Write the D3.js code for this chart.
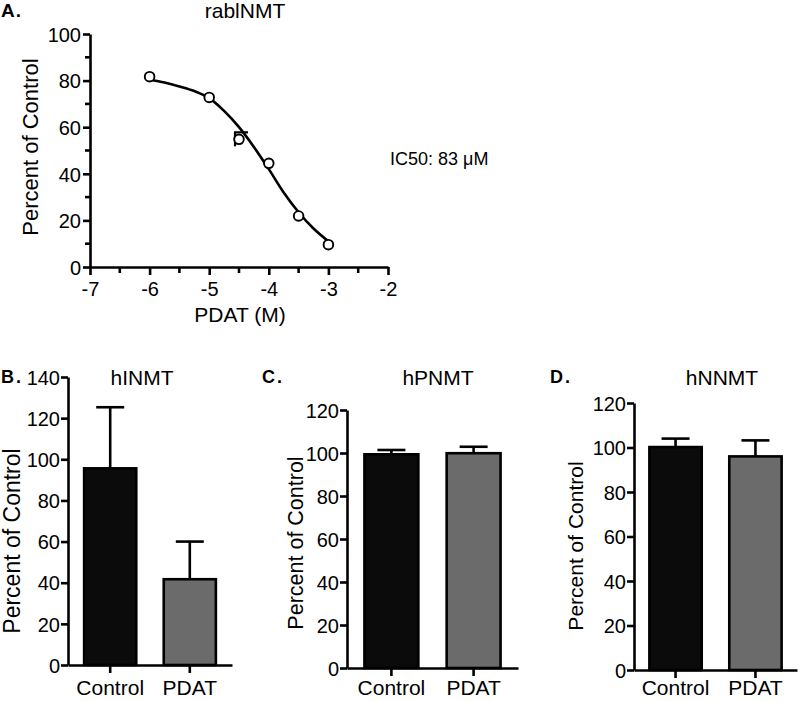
<!DOCTYPE html>
<html><head><meta charset="utf-8">
<script src="https://cdn.jsdelivr.net/npm/d3@7/dist/d3.min.js"></script>
<style>
html,body{margin:0;padding:0;background:#fff;}
svg text{font-family:"Liberation Sans",Arial,Helvetica,sans-serif;fill:#000;}
</style></head>
<body>
<svg id="fig" width="800" height="701"></svg>
<script>
// ---- Panel A data (rabINMT dose response) ----
const doseLogM = [-6, -5, -4.5, -4, -3.5, -3];
const rabPct   = [81.7, 72.8, 54.8, 44.5, 21.9, 9.6];
const rabErr   = [0, 0, 3.0, 0, 0, 0];
// fitted curve
const fitLogM  = [-6, -5.75, -5.5, -5.25, -5, -4.75, -4.5, -4.25, -4, -3.75, -3.5, -3.25, -3];
const fitPct   = [80.5, 79.2, 77.5, 75.5, 72.5, 67, 60, 51.5, 42, 32, 23.5, 16.5, 11];
const xTicksA  = [-7, -6, -5, -4, -3, -2];
const yTicksA  = [0, 20, 40, 60, 80, 100];

// ---- Bar panels data ----
const barCategories = ["Control", "PDAT"];
const hinmtMean = [95.6, 41.7];
const hinmtErr  = [29.7, 18.3];
const hpnmtMean = [99.4, 99.9];
const hpnmtErr  = [2.0, 3.0];
const hnnmtMean = [100.2, 96.0];
const hnnmtErr  = [3.8, 7.2];
const barFill = ["#0b0b0b", "#6b6b6b"];

const svg = d3.select("#fig");
const AX = 2.6;

function styleAxis(g){
  g.selectAll(".domain").attr("stroke","#000").attr("stroke-width",AX);
  g.selectAll(".tick line").attr("stroke","#000").attr("stroke-width",AX);
  g.selectAll(".tick text").attr("font-size","20px").attr("fill","#000")
   .attr("font-family",'"Liberation Sans",Arial,sans-serif');
}

// ================= Panel A =================
(function(){
  const x = d3.scaleLinear().domain([-7,-2]).range([90,388]);
  const y = d3.scaleLinear().domain([0,100]).range([267,34]);
  const g = svg.append("g");

  // minor ticks
  const xMinor = d3.range(-6.5,-2,1);
  g.append("g").selectAll("line").data(xMinor).join("line")
    .attr("x1",d=>x(d)).attr("x2",d=>x(d)).attr("y1",267).attr("y2",273)
    .attr("stroke","#000").attr("stroke-width",AX);
  const yMinor = d3.range(10,100,20);
  g.append("g").selectAll("line").data(yMinor).join("line")
    .attr("x1",90).attr("x2",85).attr("y1",d=>y(d)).attr("y2",d=>y(d))
    .attr("stroke","#000").attr("stroke-width",AX);

  const xa = g.append("g").attr("transform","translate(0,267)")
    .call(d3.axisBottom(x).tickValues(xTicksA).tickSize(8).tickPadding(6).tickFormat(d=>String(d).replace("−","-")).tickSizeOuter(0));
  styleAxis(xa);
  xa.selectAll(".tick text").attr("y",29).attr("dy","0");
  const ya = g.append("g").attr("transform","translate(90,0)")
    .call(d3.axisLeft(y).tickValues(yTicksA).tickSize(7).tickPadding(2).tickSizeOuter(0));
  styleAxis(ya);
  ya.selectAll(".tick text").attr("dy","0.36em");

  // fitted curve
  const line = d3.line().x((d,i)=>x(fitLogM[i])).y(d=>y(d)).curve(d3.curveCatmullRom);
  g.append("path").datum(fitPct).attr("d",line)
    .attr("fill","none").attr("stroke","#000").attr("stroke-width",2.6);

  // error bars
  const eb = g.append("g");
  doseLogM.forEach((d,i)=>{
    if(rabErr[i]>0){
      const cx = x(d);
      eb.append("line").attr("x1",cx-4).attr("x2",cx-4)
        .attr("y1",y(rabPct[i]-rabErr[i])).attr("y2",y(rabPct[i]+rabErr[i]))
        .attr("stroke","#000").attr("stroke-width",2.2);
      eb.append("line").attr("x1",cx-5).attr("x2",cx+9)
        .attr("y1",y(rabPct[i]+rabErr[i])).attr("y2",y(rabPct[i]+rabErr[i]))
        .attr("stroke","#000").attr("stroke-width",2.2);
    }
  });
  // points
  g.append("g").selectAll("circle").data(doseLogM).join("circle")
    .attr("cx",d=>x(d)).attr("cy",(d,i)=>y(rabPct[i])).attr("r",4.8)
    .attr("fill","#fff").attr("stroke","#000").attr("stroke-width",1.9);

  g.append("text").attr("x",1).attr("y",17).attr("font-size","19px")
    .attr("font-weight","bold").attr("letter-spacing","1px").text("A.");
  g.append("text").attr("x",245).attr("y",18).attr("text-anchor","middle")
    .attr("font-size","21px").text("rablNMT");
  g.append("text").attr("transform","translate(38,147) rotate(-90)")
    .attr("text-anchor","middle").attr("font-size","22px").text("Percent of Control");
  g.append("text").attr("x",240).attr("y",322).attr("text-anchor","middle")
    .attr("font-size","21px").text("PDAT (M)");
  g.append("text").attr("x",390).attr("y",165).attr("font-size","18px").text("IC50: 83 μM");
})();

// ================= Bar panels =================
function barPanel(o){
  const g = svg.append("g");
  const x = d3.scaleBand().domain(barCategories).range([o.x0,o.x1])
    .paddingInner(o.pi).paddingOuter(o.po);
  const y = d3.scaleLinear().domain([0,o.ymax]).range([o.y0,o.y1]);

  // error bars (behind bars)
  const eg = g.append("g");
  barCategories.forEach((c,i)=>{
    const cx = x(c)+x.bandwidth()/2;
    eg.append("line").attr("x1",cx).attr("x2",cx)
      .attr("y1",y(o.mean[i])).attr("y2",y(o.mean[i]+o.err[i]))
      .attr("stroke","#000").attr("stroke-width",AX);
    eg.append("line").attr("x1",cx-14).attr("x2",cx+14)
      .attr("y1",y(o.mean[i]+o.err[i])).attr("y2",y(o.mean[i]+o.err[i]))
      .attr("stroke","#000").attr("stroke-width",AX);
  });
  g.append("g").selectAll("rect").data(barCategories).join("rect")
    .attr("x",d=>x(d)+1).attr("width",x.bandwidth()-2)
    .attr("y",(d,i)=>y(o.mean[i])).attr("height",(d,i)=>o.y0-y(o.mean[i]))
    .attr("fill",(d,i)=>barFill[i]).attr("stroke","#000").attr("stroke-width",2.6);

  const xa = g.append("g").attr("transform",`translate(0,${o.y0})`)
    .call(d3.axisBottom(x).tickSize(8).tickPadding(8).tickSizeOuter(0));
  styleAxis(xa);
  xa.selectAll(".tick text").attr("font-size","21px").attr("y",695 - o.y0).attr("dy","0");
  const ya = g.append("g").attr("transform",`translate(${o.x0},0)`)
    .call(d3.axisLeft(y).ticks(o.ymax/20).tickSize(7).tickPadding(1).tickSizeOuter(0));
  styleAxis(ya);
  ya.selectAll(".tick text").attr("dy","0.36em");

  g.append("text").attr("x",o.lx).attr("y",o.ly).attr("font-size","18px")
    .attr("font-weight","bold").attr("letter-spacing","2px").text(o.letter);
  g.append("text").attr("x",o.tx).attr("y",385).attr("text-anchor","middle")
    .attr("font-size","21px").text(o.title);
  g.append("text").attr("transform",`translate(${o.yx},${o.yy}) rotate(-90)`)
    .attr("text-anchor","middle").attr("font-size",o.yfs).text("Percent of Control");
}

barPanel({x0:68,x1:232,pi:0.32,po:0.19,y0:665,y1:377,ymax:140,mean:hinmtMean,err:hinmtErr,
  letter:"B.",lx:1,ly:383,title:"hINMT",tx:142,yx:20,yy:541,yfs:"23px"});
barPanel({x0:347,x1:518,pi:0.32,po:0.2,y0:668,y1:410,ymax:120,mean:hpnmtMean,err:hpnmtErr,
  letter:"C.",lx:262,ly:383,title:"hPNMT",tx:438,yx:303,yy:543,yfs:"21.5px"});
barPanel({x0:634,x1:797,pi:0.32,po:0.18,y0:670,y1:403,ymax:120,mean:hnnmtMean,err:hnnmtErr,
  letter:"D.",lx:550,ly:383,title:"hNNMT",tx:722,yx:583,yy:546,yfs:"21px"});
</script>
</body></html>
